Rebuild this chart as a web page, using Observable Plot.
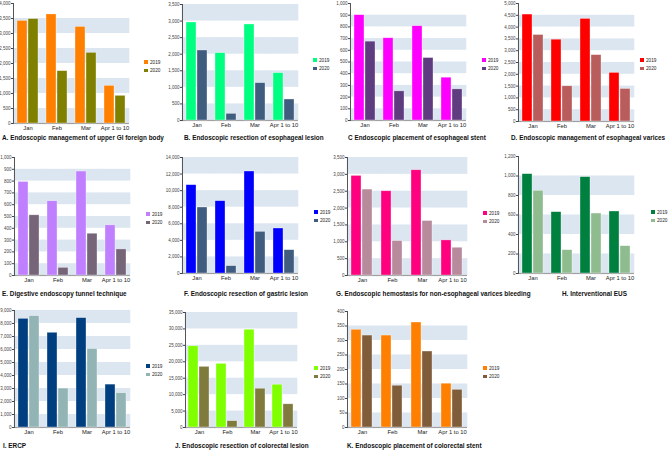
<!DOCTYPE html>
<html><head><meta charset="utf-8">
<script src="https://cdn.jsdelivr.net/npm/d3@7"></script>
<script src="https://cdn.jsdelivr.net/npm/@observablehq/plot@0.6"></script>
<style>
body{margin:0;background:#fff;}
#root{position:relative;width:669px;height:450px;overflow:hidden;font-family:"Liberation Sans",Arial,sans-serif;}
#root svg{overflow:visible;position:absolute;}
.cap{position:absolute;font-weight:bold;font-size:6.4px;white-space:nowrap;color:#111;line-height:7px;}
.leg{position:absolute;font-size:4.7px;line-height:5px;color:#222;white-space:nowrap;}
.sw{display:inline-block;width:3.5px;height:3.5px;margin-right:2.5px;vertical-align:-0.3px;}
</style></head><body><div id="root"></div><script>
const months = ["Jan", "Feb", "Mar", "Apr 1 to 10"];
const years = ["2019", "2020"];

// values (Jan, Feb, Mar, Apr 1 to 10)
const a2019 = [3420, 3635, 3220, 1255], a2020 = [3480, 1745, 2355, 922];
const b2019 = [2957, 2032, 2897, 1428], b2020 = [2112, 201, 1127, 634];
const c2019 = [900, 703, 806, 366],     c2020 = [674, 249, 534, 266];
const d2019 = [4531, 3466, 4347, 2060], d2020 = [3665, 1491, 2812, 1378];
const e2019 = [793, 629, 881, 425],     e2020 = [510, 65, 354, 221];
const f2019 = [10660, 8729, 12310, 5430], f2020 = [7965, 885, 5028, 2816];
const g2019 = [2954, 2498, 3122, 1041], g2020 = [2548, 1021, 1616, 823];
const h2019 = [1019, 629, 988, 636],    h2020 = [848, 239, 615, 280];
const i2019 = [8360, 7287, 8414, 3299], i2020 = [8565, 2992, 6036, 2634];
const j2019 = [24712, 19366, 29755, 13012], j2020 = [18458, 1916, 11801, 7061];
const k2019 = [337, 317, 362, 151],     k2020 = [317, 144, 262, 130];

const titles = [
  "A. Endoscopic management of upper GI foreign body",
  "B. Endoscopic resection of esophageal lesion",
  "C  Endoscopic placement of esophageal stent",
  "D. Endoscopic management of esophageal varices",
  "E. Digestive endoscopy tunnel technique",
  "F. Endoscopic resection of gastric lesion",
  "G. Endoscopic hemostasis for  non-esophageal varices bleeding",
  "H. Interventional EUS",
  "I. ERCP",
  "J. Endoscopic resection of colorectal lesion",
  "K. Endoscopic placement of colorectal stent"
];
const yMax  = [4000, 3500, 1000, 5000, 1000, 14000, 3500, 1200, 9000, 35000, 400];
const yStep = [500, 500, 100, 500, 100, 2000, 500, 200, 1000, 5000, 50];
const palettes = [
  ["#ff8000", "#808000"],
  ["#00ff80", "#405d7f"],
  ["#ff00ff", "#5f3b7f"],
  ["#ff0000", "#b85c5c"],
  ["#bf7fff", "#766478"],
  ["#0000ff", "#405d80"],
  ["#ff007f", "#b78a9c"],
  ["#00803f", "#8fbc8f"],
  ["#003f7f", "#93b4b4"],
  ["#80ff00", "#807a3c"],
  ["#ff8000", "#805d3a"]
];
const series2019 = [a2019, b2019, c2019, d2019, e2019, f2019, g2019, h2019, i2019, j2019, k2019];
const series2020 = [a2020, b2020, c2020, d2020, e2020, f2020, g2020, h2020, i2020, j2020, k2020];

// layout: origin x, axis x, right, top, bottom; legend x, legend y; caption x, caption y
const layout = [
  {ox:0,   ax:12,  r:129, t:3,   b:123, lx:144, ly:62,  cx:2,   cy:137},
  {ox:165, ax:182, r:298, t:4,   b:120, lx:313, ly:60,  cx:184, cy:137},
  {ox:330, ax:350, r:466, t:3,   b:120, lx:482, ly:60,  cx:348, cy:137},
  {ox:495, ax:518, r:634, t:3,   b:121, lx:640, ly:60,  cx:511, cy:137},
  {ox:0,   ax:13,  r:130, t:157, b:275, lx:146, ly:214, cx:2,   cy:293},
  {ox:165, ax:182, r:298, t:157, b:273, lx:314, ly:212, cx:184, cy:293},
  {ox:330, ax:347, r:467, t:157, b:275, lx:483, ly:213, cx:336, cy:293},
  {ox:495, ax:516, r:635, t:156, b:273, lx:651, ly:212, cx:562, cy:293},
  {ox:0,   ax:12,  r:131, t:310, b:427, lx:146, ly:366, cx:3,   cy:445},
  {ox:165, ax:183, r:298, t:312, b:427, lx:314, ly:368, cx:175, cy:445},
  {ox:330, ax:346, r:467, t:311, b:427, lx:483, ly:368, cx:347, cy:445}
];

const root = document.getElementById("root");
const fmt = d3.format(",");

titles.forEach((title, p) => {
  const L = layout[p];
  const data = months.flatMap((m, i) => [
    {month: m, year: years[0], value: series2019[p][i]},
    {month: m, year: years[1], value: series2020[p][i]}
  ]);
  const ticks = d3.range(0, yMax[p] + yStep[p] / 2, yStep[p]);
  const bands = ticks.filter((t, i) => i % 2 === 0 && t < yMax[p]).map(t => ({lo: t, hi: t + yStep[p]}));
  const mt = 4, mb = 11, mr = 2;
  const svg = Plot.plot({
    width: L.r - L.ox + mr,
    height: L.b - L.t + mt + mb,
    marginLeft: L.ax - L.ox, marginRight: mr, marginTop: mt, marginBottom: mb,
    style: {fontFamily: "Liberation Sans, Arial, sans-serif", background: "transparent", overflow: "visible"},
    fx: {domain: months, padding: 0, label: null},
    x: {domain: years, axis: null, paddingInner: 0.08, paddingOuter: 0.3},
    y: {domain: [0, yMax[p]], axis: null},
    color: {domain: years, range: palettes[p]},
    marks: [
      Plot.rect(bands, {y1: "lo", y2: "hi", fill: "#dce6f1", insetLeft: -0.3, insetRight: -0.3}),
      Plot.ruleY([0], {stroke: "#a0a0a0", strokeWidth: 1.2}),
      Plot.barY(data, {fx: "month", x: "year", y: "value", fill: "year", stroke: "white", strokeOpacity: 0.55, strokeWidth: 0.6}),
      Plot.axisFx({anchor: "bottom", tickSize: 0, tickPadding: 2.5, fontSize: 5.8, label: null, color: "#222"}),
      Plot.axisY({ticks, tickFormat: fmt, tickSize: 2, tickPadding: 1, fontSize: 4.5, label: null, color: "#444"}),
      Plot.frame({anchor: "left", facetAnchor: "left", stroke: "#555"})
    ]
  });
  svg.style.left = L.ox + "px";
  svg.style.top = (L.t - mt) + "px";
  root.appendChild(svg);

  years.forEach((y, k) => {
    const d = document.createElement("div");
    d.className = "leg";
    d.style.left = L.lx + "px";
    d.style.top = (L.ly - 2.5 + k * 8.5) + "px";
    d.innerHTML = `<span class="sw" style="background:${palettes[p][k]}"></span>${y}`;
    root.appendChild(d);
  });

  const c = document.createElement("div");
  c.className = "cap";
  c.style.left = L.cx + "px";
  c.style.top = (L.cy - 3.5) + "px";
  c.textContent = title;
  root.appendChild(c);
});
</script></body></html>
